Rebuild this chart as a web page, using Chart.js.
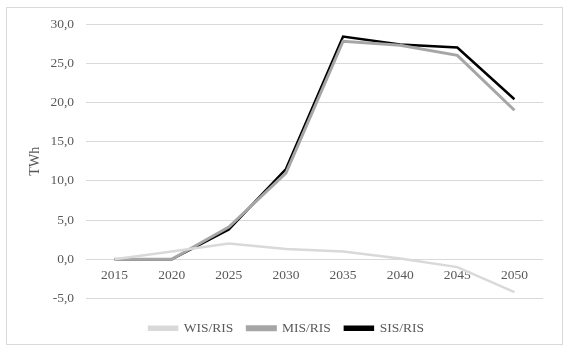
<!DOCTYPE html>
<html>
<head>
<meta charset="utf-8">
<script src="https://cdn.jsdelivr.net/npm/chart.js@4"></script>
<style>
  html, body { margin: 0; padding: 0; background: #fff; }
  #wrap { position: relative; width: 570px; height: 354px; }
  #frame { position: absolute; left: 6px; top: 7px; width: 555px; height: 336px; border: 1px solid #d9d9d9; pointer-events: none; }
</style>
</head>
<body>
<div id="wrap">
  <canvas id="chart" width="570" height="354"></canvas>
  <div id="frame"></div>
</div>
<script>
// Chart data
const years = ['2015', '2020', '2025', '2030', '2035', '2040', '2045', '2050'];
const wisRis = [0, 1.0, 2.0, 1.3, 1.0, 0.1, -1.0, -4.2];
const misRis = [0, 0, 4.1, 11.0, 27.8, 27.3, 26.0, 19.0];
const sisRis = [0, 0, 3.8, 11.5, 28.4, 27.4, 27.0, 20.4];
const seriesNames = ['WIS/RIS', 'MIS/RIS', 'SIS/RIS'];
const yTicks = [-5, 0, 5, 10, 15, 20, 25, 30];

const font = { family: "'Liberation Serif', 'Times New Roman', serif", size: 13.5 };
const textColor = '#595959';

function lineSet(label, data, color, width) {
  return {
    label,
    data,
    borderColor: color,
    backgroundColor: color,
    borderWidth: width,
    pointRadius: 0,
    pointHoverRadius: 0,
    fill: false,
    tension: 0
  };
}

// empty axis used only as a spacer
function spacer(type, position, size) {
  return {
    type,
    position,
    grid: { display: false, drawTicks: false },
    border: { display: false },
    ticks: { display: false },
    afterFit: s => {
      if (position === 'bottom') s.height = size;
      else s.width = size;
    }
  };
}

const ctx = document.getElementById('chart').getContext('2d');
new Chart(ctx, {
  type: 'line',
  data: {
    labels: years,
    datasets: [
      lineSet(seriesNames[0], wisRis, '#d9d9d9', 2.5),
      lineSet(seriesNames[1], misRis, '#a6a6a6', 3),
      lineSet(seriesNames[2], sisRis, '#000000', 2.5)
    ]
  },
  options: {
    responsive: false,
    animation: false,
    layout: { padding: { left: 6, right: 3, top: 24, bottom: 9 } },
    plugins: {
      legend: {
        position: 'bottom',
        labels: {
          font,
          color: textColor,
          boxWidth: 28,
          boxHeight: 3,
          padding: 14
        }
      },
      tooltip: { enabled: false }
    },
    scales: {
      x: {
        position: { y: 0 },
        offset: true,
        grid: { display: false, drawTicks: false },
        border: { display: false },
        ticks: { font, color: textColor, padding: 8, maxRotation: 0 }
      },
      xGap: spacer('category', 'bottom', 9),
      yGap: spacer('linear', 'right', 24),
      y: {
        min: yTicks[0],
        max: yTicks[yTicks.length - 1],
        afterBuildTicks: scale => {
          scale.ticks = yTicks.map(v => ({ value: v }));
        },
        afterFit: scale => { scale.width = 80; },
        grid: { color: '#d9d9d9', lineWidth: 1, drawTicks: false },
        border: { display: false },
        ticks: {
          font,
          color: textColor,
          padding: 12,
          callback: v => v.toFixed(1).replace('.', ',')
        },
        title: {
          display: true,
          text: 'TWh',
          font: { family: font.family, size: 14 },
          color: textColor,
          padding: { top: 21, bottom: 0 }
        }
      }
    }
  }
});
</script>
</body>
</html>
